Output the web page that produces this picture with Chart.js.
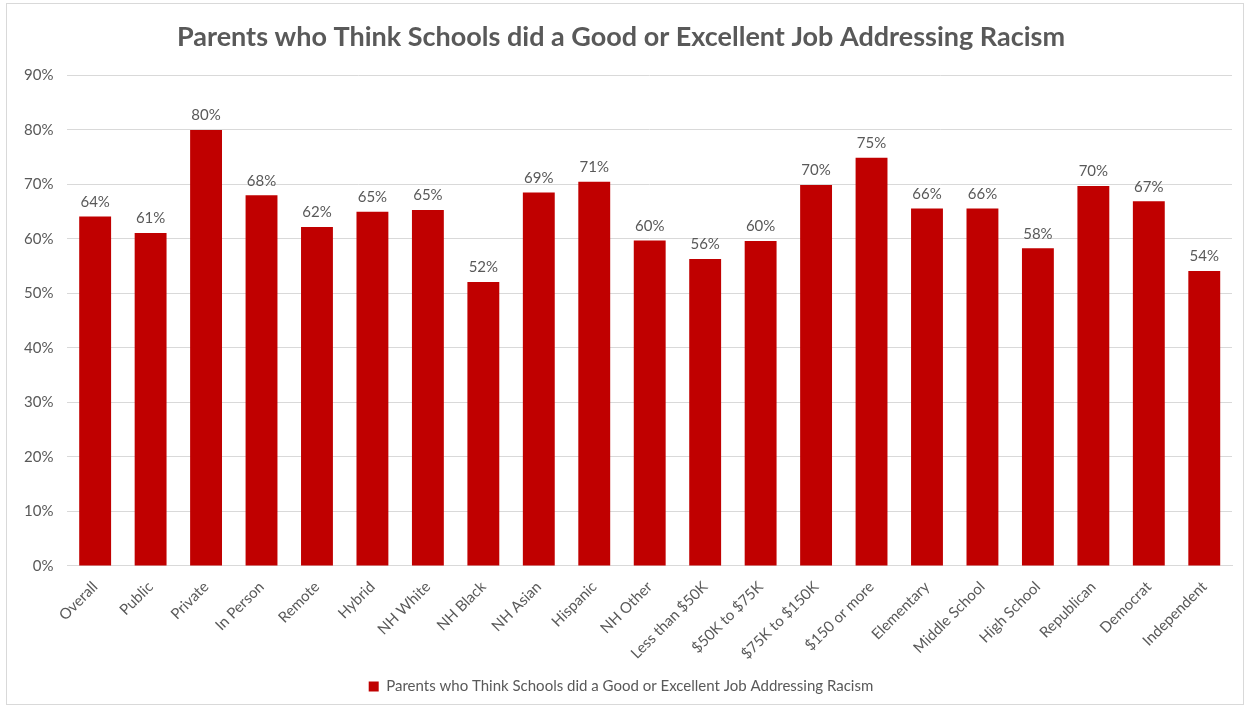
<!DOCTYPE html>
<html>
<head>
<meta charset="utf-8">
<script src="https://cdn.jsdelivr.net/npm/chart.js@4.4.1/dist/chart.umd.min.js"></script>
<style>
    html, body { margin: 0; padding: 0; background: #fff; }
    #wrap {
        position: absolute; left: 6px; top: 3px;
        width: 1238px; height: 702px;
        border: 1px solid #d9d9d9; box-sizing: border-box;
    }
    #chart { position: absolute; left: 0; top: 0; }
</style>
</head>
<body>
<div id="wrap"><canvas id="chart" width="1236" height="700"></canvas></div>
<script>
// categories along the x axis
const groups = ['Overall', 'Public', 'Private', 'In Person', 'Remote', 'Hybrid', 'NH White',
    'NH Black', 'NH Asian', 'Hispanic', 'NH Other', 'Less than $50K', '$50K to $75K',
    '$75K to $150K', '$150 or more', 'Elementary', 'Middle School', 'High School',
    'Republican', 'Democrat', 'Independent'];

// share of parents (percent)
const goodOrExcellent = [64.1, 61.1, 80.0, 68.0, 62.2, 65.0, 65.3, 52.1, 68.5, 70.5, 59.7,
    56.3, 59.6, 69.9, 74.9, 65.6, 65.6, 58.3, 69.7, 66.9, 54.1];

const seriesName = 'Parents who Think Schools did a Good or Excellent Job Addressing Racism';
const textGray = '#595959';
const fontFam = 'Lato, "Open Sans", sans-serif';

// draws the rounded percentage above each bar
const barLabels = {
    id: 'barLabels',
    afterDatasetsDraw(chart) {
        const ctx = chart.ctx;
        const meta = chart.getDatasetMeta(0);
        ctx.save();
        ctx.font = '15px ' + fontFam;
        ctx.fillStyle = textGray;
        ctx.textAlign = 'center';
        ctx.textBaseline = 'bottom';
        meta.data.forEach((bar, i) => {
            ctx.fillText(Math.round(goodOrExcellent[i]) + '%', bar.x, bar.y - 7);
        });
        ctx.restore();
    }
};

new Chart(document.getElementById('chart'), {
    type: 'bar',
    data: {
        labels: groups,
        datasets: [{
            label: seriesName,
            data: goodOrExcellent,
            backgroundColor: '#C00000',
            barPercentage: 0.575,
            categoryPercentage: 1.0
        }]
    },
    options: {
        responsive: false,
        animation: false,
        layout: { padding: { left: 3, right: 11, top: 0, bottom: 0 } },
        plugins: {
            title: {
                display: true,
                text: 'Parents who Think Schools did a Good or Excellent Job Addressing Racism',
                color: textGray,
                font: { family: fontFam, size: 27, weight: 'bold' },
                padding: { top: 17, bottom: 22 }
            },
            legend: {
                position: 'bottom',
                labels: {
                    color: textGray,
                    font: { family: fontFam, size: 15 },
                    boxWidth: 10, boxHeight: 10,
                    padding: 12
                }
            },
            tooltip: { enabled: false }
        },
        scales: {
            y: {
                min: 0, max: 90,
                ticks: {
                    stepSize: 10,
                    color: textGray,
                    font: { family: fontFam, size: 15 },
                    padding: 14,
                    callback: v => v + '%'
                },
                grid: { color: '#d9d9d9', drawTicks: false },
                border: { display: false }
            },
            x: {
                ticks: {
                    color: textGray,
                    font: { family: fontFam, size: 15 },
                    minRotation: 45, maxRotation: 45,
                    autoSkip: false,
                    padding: 4
                },
                grid: { display: false },
                border: { color: '#d9d9d9' }
            }
        }
    },
    plugins: [barLabels]
});
</script>
</body>
</html>
